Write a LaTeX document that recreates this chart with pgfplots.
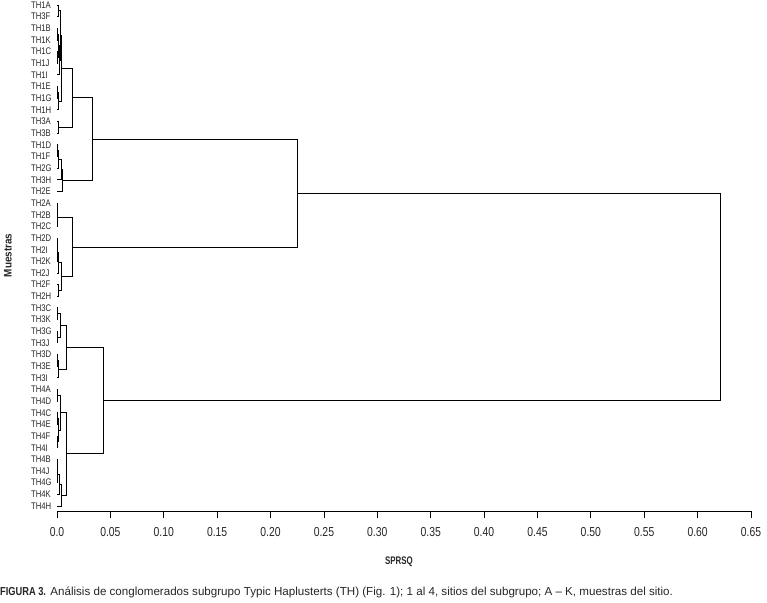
\documentclass[border=0pt]{standalone}
\usepackage{fontspec}
\setmainfont{Liberation Sans}
\newfontfamily\condA{Liberation Sans}[FakeStretch=0.8]
\newfontfamily\condB{Liberation Sans}[FakeStretch=0.72]
\newfontfamily\condC{Liberation Sans}[FakeStretch=0.9]
\usepackage{pgfplots}
\pgfplotsset{compat=1.18}
\begin{document}
\begin{tikzpicture}
\useasboundingbox (-57pt,-91pt) rectangle (710pt,511pt);
\begin{axis}[
  scale only axis, width=694pt, height=511pt,
  xmin=0, xmax=0.65, ymin=-44.43, ymax=-0.57,
  axis x line*=bottom, axis y line*=left,
  y axis line style={draw=none},
  ytick style={draw=none},
  tick align=outside, major tick length=7pt,
  x axis line style={line width=0.8pt},
  xtick style={line width=0.8pt, black},
  xtick={0,0.05,0.10,0.15,0.20,0.25,0.30,0.35,0.40,0.45,0.50,0.55,0.60,0.65},
  xticklabels={0.0,0.05,0.10,0.15,0.20,0.25,0.30,0.35,0.40,0.45,0.50,0.55,0.60,0.65},
  /pgf/number format/assume math mode=true,
  xticklabel style={font=\condA\fontsize{13}{14}\selectfont, text=black!85, yshift=-6pt},
  ytick={-1,-2,-3,-4,-5,-6,-7,-8,-9,-10,-11,-12,-13,-14,-15,-16,-17,-18,-19,-20,-21,-22,-23,-24,-25,-26,-27,-28,-29,-30,-31,-32,-33,-34,-35,-36,-37,-38,-39,-40,-41,-42,-43,-44},
  yticklabels={TH1A,TH3F,TH1B,TH1K,TH1C,TH1J,TH1I,TH1E,TH1G,TH1H,TH3A,TH3B,TH1D,TH1F,TH2G,TH3H,TH2E,TH2A,TH2B,TH2C,TH2D,TH2I,TH2K,TH2J,TH2F,TH2H,TH3C,TH3K,TH3G,TH3J,TH3D,TH3E,TH3I,TH4A,TH4D,TH4C,TH4E,TH4F,TH4I,TH4B,TH4J,TH4G,TH4K,TH4H},
  yticklabel style={font=\condA\fontsize{9.6}{10}\selectfont, text=black!85, anchor=west, inner sep=0pt, xshift=-19pt},
  clip=false,
  dendro/.style={black, solid, line width=0.9pt, mark=none},
]
% cluster A1
\addplot[dendro] coordinates {(0,-1) (0.0012,-1) (0.0012,-2) (0,-2)};
\addplot[dendro] coordinates {(0,-3) (0.0005,-3) (0.0005,-4) (0,-4)};
\addplot[dendro] coordinates {(0,-5) (0.0003,-5) (0.0003,-6) (0,-6)};
\addplot[dendro] coordinates {(0.0005,-3.5) (0.0015,-3.5) (0.0015,-5.5) (0.0003,-5.5)};
\addplot[dendro] coordinates {(0.0015,-4.5) (0.0025,-4.5) (0.0025,-7) (0,-7)};
\addplot[dendro] coordinates {(0.0012,-1.5) (0.003,-1.5) (0.003,-5.75) (0.0025,-5.75)};
\addplot[dendro] coordinates {(0,-8) (0.0006,-8) (0.0006,-9) (0,-9)};
\addplot[dendro] coordinates {(0.0006,-8.5) (0.0015,-8.5) (0.0015,-10) (0,-10)};
\addplot[dendro] coordinates {(0.003,-3.625) (0.0042,-3.625) (0.0042,-9.25) (0.0015,-9.25)};
% A2 and A
\addplot[dendro] coordinates {(0,-11) (0.0015,-11) (0.0015,-12) (0,-12)};
\addplot[dendro] coordinates {(0.0042,-6.4375) (0.0147,-6.4375) (0.0147,-11.5) (0.0015,-11.5)};
% cluster B
\addplot[dendro] coordinates {(0,-13) (0.0003,-13) (0.0003,-14) (0,-14)};
\addplot[dendro] coordinates {(0.0003,-13.5) (0.0018,-13.5) (0.0018,-15) (0,-15)};
\addplot[dendro] coordinates {(0.0018,-14.25) (0.004,-14.25) (0.004,-16) (0,-16)};
\addplot[dendro] coordinates {(0.004,-15.125) (0.005,-15.125) (0.005,-17) (0,-17)};
% AB
\addplot[dendro] coordinates {(0.0147,-8.96875) (0.0334,-8.96875) (0.0334,-16.0625) (0.005,-16.0625)};
% cluster C
\addplot[dendro] coordinates {(0,-18) (0.0003,-18) (0.0003,-19) (0,-19)};
\addplot[dendro] coordinates {(0.0003,-18.5) (0.0008,-18.5) (0.0008,-20) (0,-20)};
\addplot[dendro] coordinates {(0,-21) (0.0002,-21) (0.0002,-22) (0,-22)};
\addplot[dendro] coordinates {(0.0002,-21.5) (0.0005,-21.5) (0.0005,-23) (0,-23)};
\addplot[dendro] coordinates {(0.0005,-22.25) (0.0009,-22.25) (0.0009,-24) (0,-24)};
\addplot[dendro] coordinates {(0,-25) (0.001,-25) (0.001,-26) (0,-26)};
\addplot[dendro] coordinates {(0.0009,-23.125) (0.0044,-23.125) (0.0044,-25.5) (0.001,-25.5)};
\addplot[dendro] coordinates {(0.0008,-19.25) (0.0147,-19.25) (0.0147,-24.3125) (0.0044,-24.3125)};
% ABC
\addplot[dendro] coordinates {(0.0334,-12.515625) (0.2248,-12.515625) (0.2248,-21.78125) (0.0147,-21.78125)};
% cluster D
\addplot[dendro] coordinates {(0,-27) (0.0003,-27) (0.0003,-28) (0,-28)};
\addplot[dendro] coordinates {(0,-29) (0.0005,-29) (0.0005,-30) (0,-30)};
\addplot[dendro] coordinates {(0.0003,-27.5) (0.0035,-27.5) (0.0035,-29.5) (0.0005,-29.5)};
\addplot[dendro] coordinates {(0,-31) (0.0002,-31) (0.0002,-32) (0,-32)};
\addplot[dendro] coordinates {(0.0002,-31.5) (0.0012,-31.5) (0.0012,-33) (0,-33)};
\addplot[dendro] coordinates {(0.0035,-28.5) (0.0085,-28.5) (0.0085,-32.25) (0.0012,-32.25)};
% cluster E
\addplot[dendro] coordinates {(0,-34) (0.0004,-34) (0.0004,-35) (0,-35)};
\addplot[dendro] coordinates {(0,-36) (0.0002,-36) (0.0002,-37) (0,-37)};
\addplot[dendro] coordinates {(0,-38) (0.0003,-38) (0.0003,-39) (0,-39)};
\addplot[dendro] coordinates {(0.0002,-36.5) (0.0009,-36.5) (0.0009,-38.5) (0.0003,-38.5)};
\addplot[dendro] coordinates {(0.0004,-34.5) (0.0028,-34.5) (0.0028,-37.5) (0.0009,-37.5)};
\addplot[dendro] coordinates {(0,-40) (0.0003,-40) (0.0003,-41) (0,-41)};
\addplot[dendro] coordinates {(0.0003,-40.5) (0.0008,-40.5) (0.0008,-42) (0,-42)};
\addplot[dendro] coordinates {(0.0008,-41.25) (0.0022,-41.25) (0.0022,-43) (0,-43)};
\addplot[dendro] coordinates {(0.0022,-42.125) (0.0042,-42.125) (0.0042,-44) (0,-44)};
\addplot[dendro] coordinates {(0.0028,-36) (0.0092,-36) (0.0092,-43.0625) (0.0042,-43.0625)};
% DE
\addplot[dendro] coordinates {(0.0085,-30.375) (0.0434,-30.375) (0.0434,-39.53125) (0.0092,-39.53125)};
% root
\addplot[dendro] coordinates {(0.2248,-17.1484375) (0.6218,-17.1484375) (0.6218,-34.953125) (0.0434,-34.953125)};
\end{axis}
\node[font=\condB\bfseries\fontsize{11}{12}\selectfont, text=black!85] at (342pt,-51pt) {SPRSQ};
\node[font=\condC\bfseries\fontsize{11}{12}\selectfont, text=black!85, rotate=90] at (-49pt,255.5pt) {Muestras};
\node[anchor=base west, inner sep=0pt, font=\fontsize{11.6}{13}\selectfont, text=black!85] at (-57pt,-84pt) {{\condA\bfseries FIGURA 3.} Análisis de conglomerados subgrupo Typic Haplusterts (TH) (Fig. 1); 1 al 4, sitios del subgrupo; A – K, muestras del sitio.};
\end{tikzpicture}
\end{document}
